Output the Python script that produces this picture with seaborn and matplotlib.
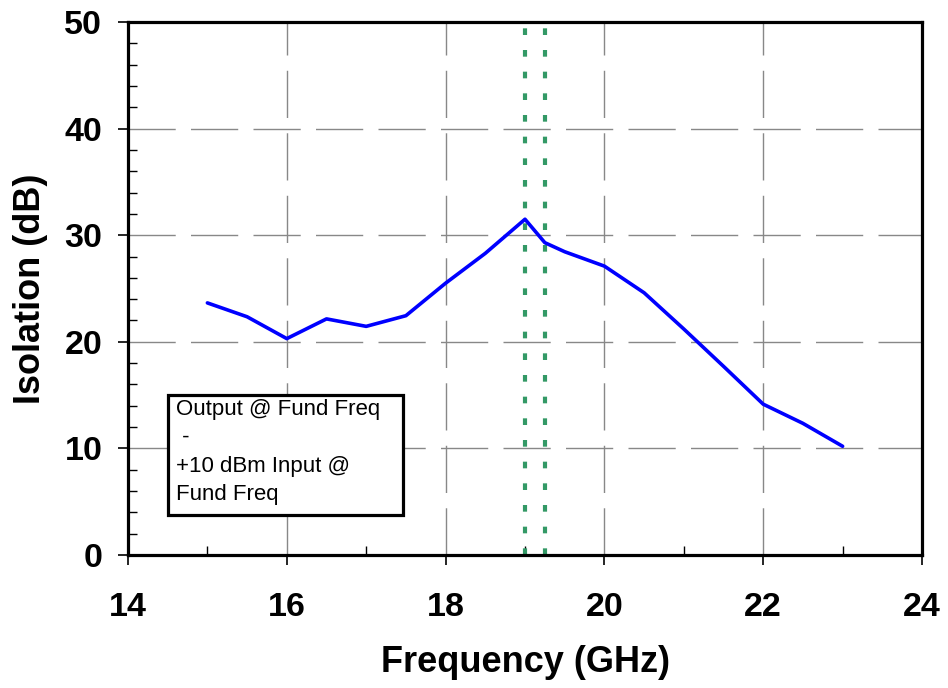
import matplotlib
matplotlib.use("Agg")
import matplotlib.pyplot as plt
from matplotlib.patches import Rectangle
import seaborn as sns
import pandas as pd
from matplotlib.ticker import MultipleLocator

freq_ghz = [15, 15.5, 16, 16.5, 17, 17.5, 18, 18.5, 19, 19.25, 19.5, 20, 20.5, 21, 21.5, 22, 22.5, 23]
isolation_db = [23.65, 22.35, 20.3, 22.15, 21.45, 22.45, 25.5, 28.3, 31.5, 29.3, 28.45, 27.1, 24.6, 21.2, 17.7, 14.15, 12.35, 10.2]
marker_freqs = [19.0, 19.25]
legend_text = "Output @ Fund Freq\n -\n+10 dBm Input @\nFund Freq"
x_label = "Frequency (GHz)"
y_label = "Isolation (dB)"

sns.set_theme(style="white")
plt.rcParams['font.family'] = ['Liberation Sans', 'DejaVu Sans']
plt.rcParams['text.color'] = 'black'
plt.rcParams['axes.labelcolor'] = 'black'
plt.rcParams['xtick.color'] = 'black'
plt.rcParams['ytick.color'] = 'black'

df = pd.DataFrame({"freq": freq_ghz, "iso": isolation_db})

fig = plt.figure(figsize=(9.48, 6.88), dpi=100)
ax = fig.add_axes([0.135, 0.1933, 0.8376, 0.7747])

sns.lineplot(data=df, x="freq", y="iso", ax=ax, color="#0000ff", linewidth=2.6, zorder=3)

for xv in marker_freqs:
    ax.axvline(xv, color="#339966", linewidth=3.0, linestyle=(0, (1.6, 3.6)), zorder=2)

ax.set_xlim(14, 24)
ax.set_ylim(0, 50)
ax.xaxis.set_major_locator(MultipleLocator(2))
ax.xaxis.set_minor_locator(MultipleLocator(1))
ax.yaxis.set_major_locator(MultipleLocator(10))
ax.yaxis.set_minor_locator(MultipleLocator(2))

ax.grid(True, which="major", color="#888888", linewidth=1.0, linestyle=(0, (34, 11)))

for s in ax.spines.values():
    s.set_color("black")
    s.set_linewidth(2.3)
    s.set_visible(True)

ax.tick_params(axis="both", which="major", direction="out", length=7.5, width=1.2, color="black",
               labelsize=24.5)
ax.tick_params(axis="x", which="major", pad=19)
ax.tick_params(axis="y", which="major", pad=11)
ax.tick_params(axis="both", which="minor", direction="in", length=6.5, width=1.0, color="black")
ax.tick_params(axis="both", which="both", bottom=True, left=True, top=False, right=False)
for lab in ax.get_xticklabels() + ax.get_yticklabels():
    lab.set_fontweight("bold")

ax.set_xlabel(x_label, fontsize=26, fontweight="bold", labelpad=16)
ax.set_ylabel(y_label, fontsize=26, fontweight="bold", labelpad=12)

ax.add_patch(Rectangle((14.504, 3.75), 2.96, 11.25, facecolor="white", edgecolor="black",
                       linewidth=2.3, zorder=5))
ax.text(14.605, 14.62, legend_text, fontsize=16, va="top", ha="left", linespacing=1.45,
        zorder=6)

fig.savefig("out.png", dpi=100, facecolor="white")
